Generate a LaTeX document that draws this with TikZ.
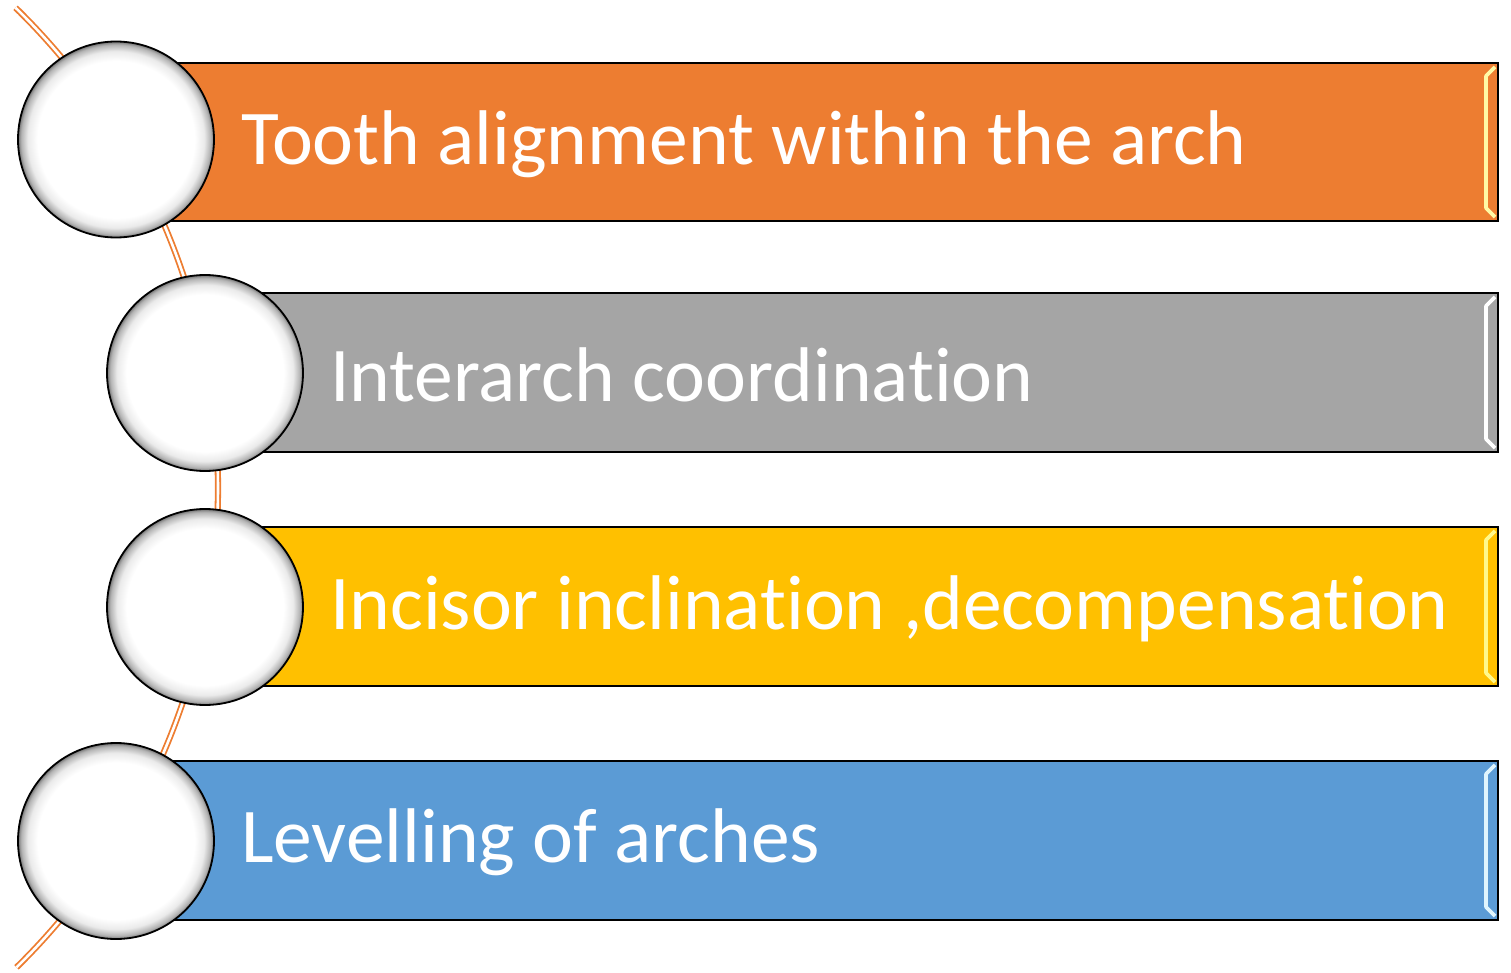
\documentclass[tikz,border=0pt]{standalone}
\usepackage{fontspec}
\setmainfont[Ligatures=NoCommon]{Carlito}
\definecolor{barorange}{HTML}{ED7D31}
\definecolor{bargray}{HTML}{A5A5A5}
\definecolor{bargold}{HTML}{FFC000}
\definecolor{barblue}{HTML}{5B9BD5}
\definecolor{arcorange}{HTML}{ED7D31}
% glassy white disc: white core, greyish rim
\pgfdeclareradialshading{orb}{\pgfpoint{0bp}{0bp}}{%
  color(0bp)=(white); color(20bp)=(white); color(22.5bp)=(black!8);
  color(24.2bp)=(black!30); color(25bp)=(black!55); color(50bp)=(black!55)}
\tikzset{
  listbar/.style={draw=black, line width=1.6pt},
  disc/.style={circle, minimum size=196pt, inner sep=0pt, shading=orb,
    draw=black, line width=1.8pt},
  bartext/.style={anchor=west, inner sep=0pt, text=white,
    font=\fontsize{77.5}{92}\selectfont},
  bevel/.style={line width=3.6pt, line join=round},
  curve/.style={draw=arcorange, line width=1.8pt, double=white, double distance=2.6pt}
}
\begin{document}
\begin{tikzpicture}[x=1pt, y=-1pt]
\useasboundingbox (0,0) rectangle (1511,973);

% the curved spine behind the list
\coordinate (hub) at (-453,488);
\draw[curve] (hub) ++(-45.7:671) arc[start angle=-45.7, end angle=45.6, radius=671];

% bars
\newcommand{\listbar}[6]{%
  % #1 name, #2 left x, #3 top y, #4 bottom y, #5 colour, #6 highlight
  \path[listbar, fill=#5] (#2,#3) rectangle (1498,#4);
  \draw[bevel, #6] (1495,#3+4) -- (1486,#3+13) -- (1486,#4-13) -- (1495,#4-4);
  \coordinate (#1) at (#2,{(#3+#4)/2+2});
}
\listbar{b1}{116}{63}{221}{barorange}{yellow!35!white}
\listbar{b2}{205}{293}{452}{bargray}{white}
\listbar{b3}{205}{527}{686}{bargold}{yellow!45!white}
\listbar{b4}{116}{761}{920}{barblue}{cyan!12!white}

% discs
\node[disc] (c1) at (116,139.5) {};
\node[disc] (c2) at (205,373) {};
\node[disc] (c3) at (205,607) {};
\node[disc] (c4) at (116,841) {};

% labels
\node[bartext] (t1) at ([xshift=26pt]c1.east |- b1) {Tooth alignment within the arch};
\node[bartext] (t2) at ([xshift=26pt]c2.east |- b2) {Interarch coordination};
\node[bartext] (t3) at ([xshift=26pt]c3.east |- b3) {Incisor inclination ,decompensation};
\node[bartext] (t4) at ([xshift=26pt]c4.east |- b4) {Levelling of arches};
\end{tikzpicture}
\end{document}
